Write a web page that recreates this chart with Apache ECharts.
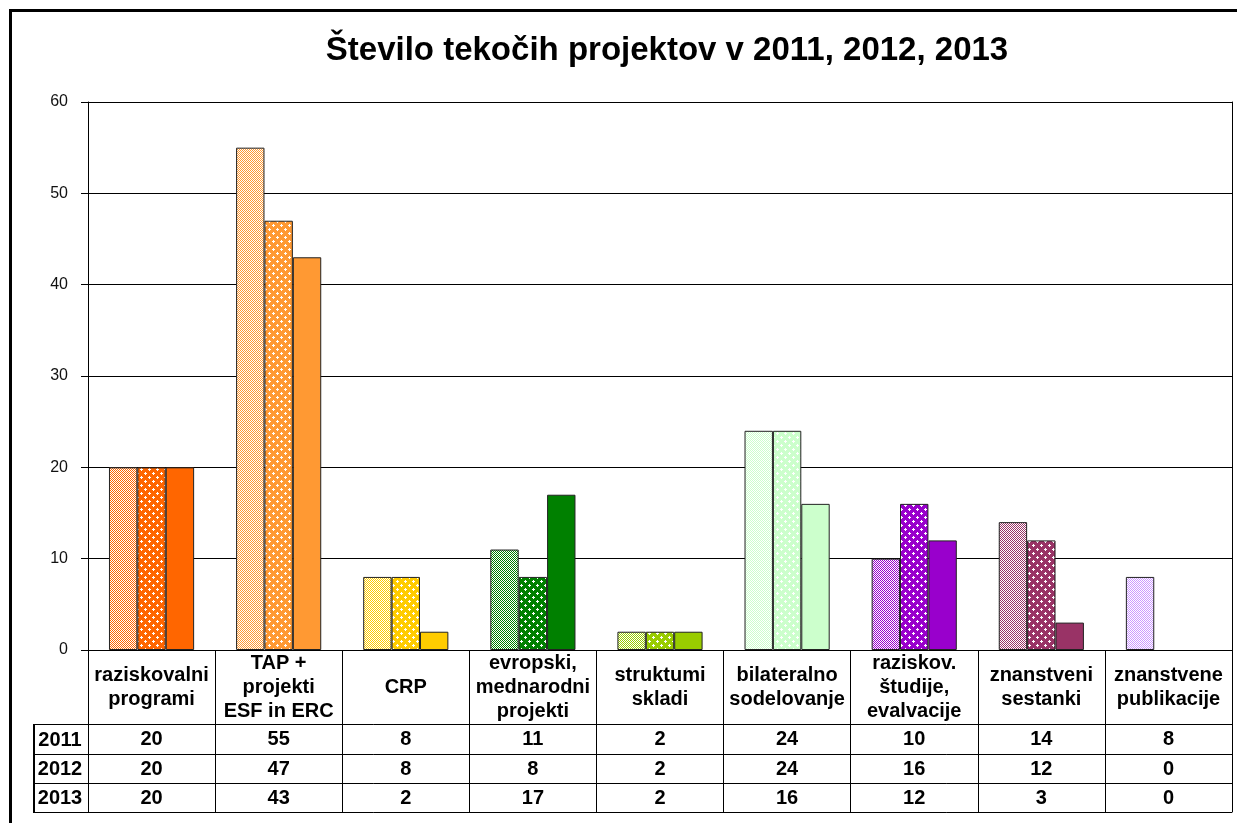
<!DOCTYPE html>
<html>
<head>
<meta charset="utf-8">
<script src="https://cdn.jsdelivr.net/npm/echarts@6/dist/echarts.min.js"></script>
<style>
html,body{margin:0;padding:0;background:#fff;}
#c{width:1237px;height:823px;}
</style>
</head>
<body>
<div id="c"></div>
<script>
const titleText = 'Število tekočih projektov v 2011, 2012, 2013';
const categories = ['raziskovalni\nprogrami', 'TAP +\nprojekti\nESF in ERC', 'CRP', 'evropski,\nmednarodni\nprojekti', 'struktumi\nskladi', 'bilateralno\nsodelovanje', 'raziskov.\nštudije,\nevalvacije', 'znanstveni\nsestanki', 'znanstvene\npublikacije'];
const years = ['2011', '2012', '2013'];
const v2011 = [20, 55, 8, 11, 2, 24, 10, 14, 8];
const v2012 = [20, 47, 8, 8, 2, 24, 16, 12, 0];
const v2013 = [20, 43, 2, 17, 2, 16, 12, 3, 0];
const catColors = ['#FF6600', '#FF9933', '#FFCC00', '#008000', '#99CC00', '#CCFFCC', '#9900CC', '#993366', '#CC99FF'];

const FONT = '"Liberation Sans", Arial, sans-serif';

function patChecker(color) {
  const c = document.createElement('canvas');
  c.width = 2; c.height = 2;
  const g = c.getContext('2d');
  g.fillStyle = '#ffffff'; g.fillRect(0, 0, 2, 2);
  g.fillStyle = color; g.fillRect(0, 0, 1, 1); g.fillRect(1, 1, 1, 1);
  return { image: c, repeat: 'repeat' };
}
function patCross(color) {
  const c = document.createElement('canvas');
  c.width = 8; c.height = 8;
  const g = c.getContext('2d');
  g.fillStyle = color; g.fillRect(0, 0, 8, 8);
  g.fillStyle = '#ffffff';
  const plus = (x, y) => { g.fillRect(x, y - 1, 1, 3); g.fillRect(x - 1, y, 3, 1); };
  plus(1, 1); plus(5, 5);
  return { image: c, repeat: 'repeat' };
}

const gridLeft = 88, gridRight = 5, gridTop = 102, gridBottom = 173;
const rowOffsets = [74, 104, 133];

function mkItems(vals, kind) {
  return vals.map((v, i) => ({
    value: v,
    itemStyle: {
      color: kind === 0 ? patChecker(catColors[i]) : kind === 1 ? patCross(catColors[i]) : catColors[i],
      borderWidth: v === 0 ? 0 : 1
    }
  }));
}

const labelStyle = { fontFamily: FONT, fontWeight: 'bold', fontSize: 20, color: '#000' };

const xAxes = [{
  type: 'category',
  data: categories,
  position: 'bottom',
  axisLine: { show: true, onZero: false, lineStyle: { color: '#000', width: 1 } },
  axisTick: { show: true, length: 162, interval: 0, lineStyle: { color: '#000', width: 1 } },
  axisLabel: Object.assign({ interval: 0, margin: 37, verticalAlign: 'middle', lineHeight: 24, align: 'center' }, labelStyle),
  splitLine: { show: false }
}];
[v2011, v2012, v2013].forEach((vals, k) => {
  xAxes.push({
    type: 'category',
    data: vals.map(String),
    position: 'bottom',
    offset: rowOffsets[k],
    axisLine: { show: true, onZero: false, lineStyle: { color: '#000', width: 1 } },
    axisTick: { show: false },
    axisLabel: Object.assign({ interval: 0, margin: 15, verticalAlign: 'middle' }, labelStyle),
    splitLine: { show: false }
  });
});
xAxes.push({
  type: 'category',
  data: categories.map(() => ''),
  position: 'bottom',
  offset: 162,
  axisLine: { show: true, onZero: false, lineStyle: { color: '#000', width: 1 } },
  axisTick: { show: false },
  axisLabel: { show: false },
  splitLine: { show: false }
});

const rowTops = [724, 754, 783];
const rowBottom = 812;
const graphics = [
  { type: 'rect', shape: { x: 10.5, y: 10.5, width: 1260, height: 840 }, style: { fill: 'none', stroke: '#000', lineWidth: 3 }, silent: true },
  { type: 'text', x: 667, y: 51, style: { text: titleText, font: 'bold 33px ' + FONT, fill: '#000', align: 'center', verticalAlign: 'middle' } },
  { type: 'line', shape: { x1: 33.5, y1: rowTops[0] + 0.5, x2: 88, y2: rowTops[0] + 0.5 }, style: { stroke: '#000', lineWidth: 1 } },
  { type: 'line', shape: { x1: 33.5, y1: rowTops[1] + 0.5, x2: 88, y2: rowTops[1] + 0.5 }, style: { stroke: '#000', lineWidth: 1 } },
  { type: 'line', shape: { x1: 33.5, y1: rowTops[2] + 0.5, x2: 88, y2: rowTops[2] + 0.5 }, style: { stroke: '#000', lineWidth: 1 } },
  { type: 'line', shape: { x1: 33.5, y1: rowBottom + 0.5, x2: 88, y2: rowBottom + 0.5 }, style: { stroke: '#000', lineWidth: 1 } },
  { type: 'line', shape: { x1: 34, y1: rowTops[0], x2: 34, y2: rowBottom + 1 }, style: { stroke: '#000', lineWidth: 2 } }
];
years.forEach((y, k) => {
  const yTop = rowTops[k], yBot = k < 2 ? rowTops[k + 1] : rowBottom;
  graphics.push({ type: 'text', x: 60, y: (yTop + yBot) / 2 + 1, style: { text: y, font: 'bold 20px ' + FONT, fill: '#000', align: 'center', verticalAlign: 'middle' } });
});

const barBorder = { borderColor: '#222', borderWidth: 1 };

const option = {
  animation: false,
  backgroundColor: '#fff',
  grid: { left: gridLeft, right: gridRight, top: gridTop, bottom: gridBottom, containLabel: false, outerBoundsMode: 'none' },
  xAxis: xAxes,
  yAxis: [{
    type: 'value', min: 0, max: 60, interval: 10,
    axisLine: { show: true, onZero: false, lineStyle: { color: '#000', width: 1 } },
    axisTick: { show: true, length: 7, lineStyle: { color: '#000' } },
    axisLabel: { margin: 20, fontFamily: FONT, fontSize: 16, color: '#111' },
    splitLine: { show: true, lineStyle: { color: '#000', width: 1 } }
  }, {
    type: 'value', min: 0, max: 60, interval: 10, position: 'right',
    axisLine: { show: true, onZero: false, lineStyle: { color: '#000', width: 1 } },
    axisTick: { show: false }, axisLabel: { show: false }, splitLine: { show: false }
  }],
  series: [
    { name: years[0], type: 'bar', data: mkItems(v2011, 0), barGap: '0%', barCategoryGap: '33%', itemStyle: barBorder },
    { name: years[1], type: 'bar', data: mkItems(v2012, 1), barGap: '0%', barCategoryGap: '33%', itemStyle: barBorder },
    { name: years[2], type: 'bar', data: mkItems(v2013, 2), barGap: '0%', barCategoryGap: '33%', itemStyle: barBorder }
  ],
  graphic: graphics
};

const chart = echarts.init(document.getElementById('c'), null, { renderer: 'canvas' });
chart.setOption(option);
</script>
</body>
</html>
